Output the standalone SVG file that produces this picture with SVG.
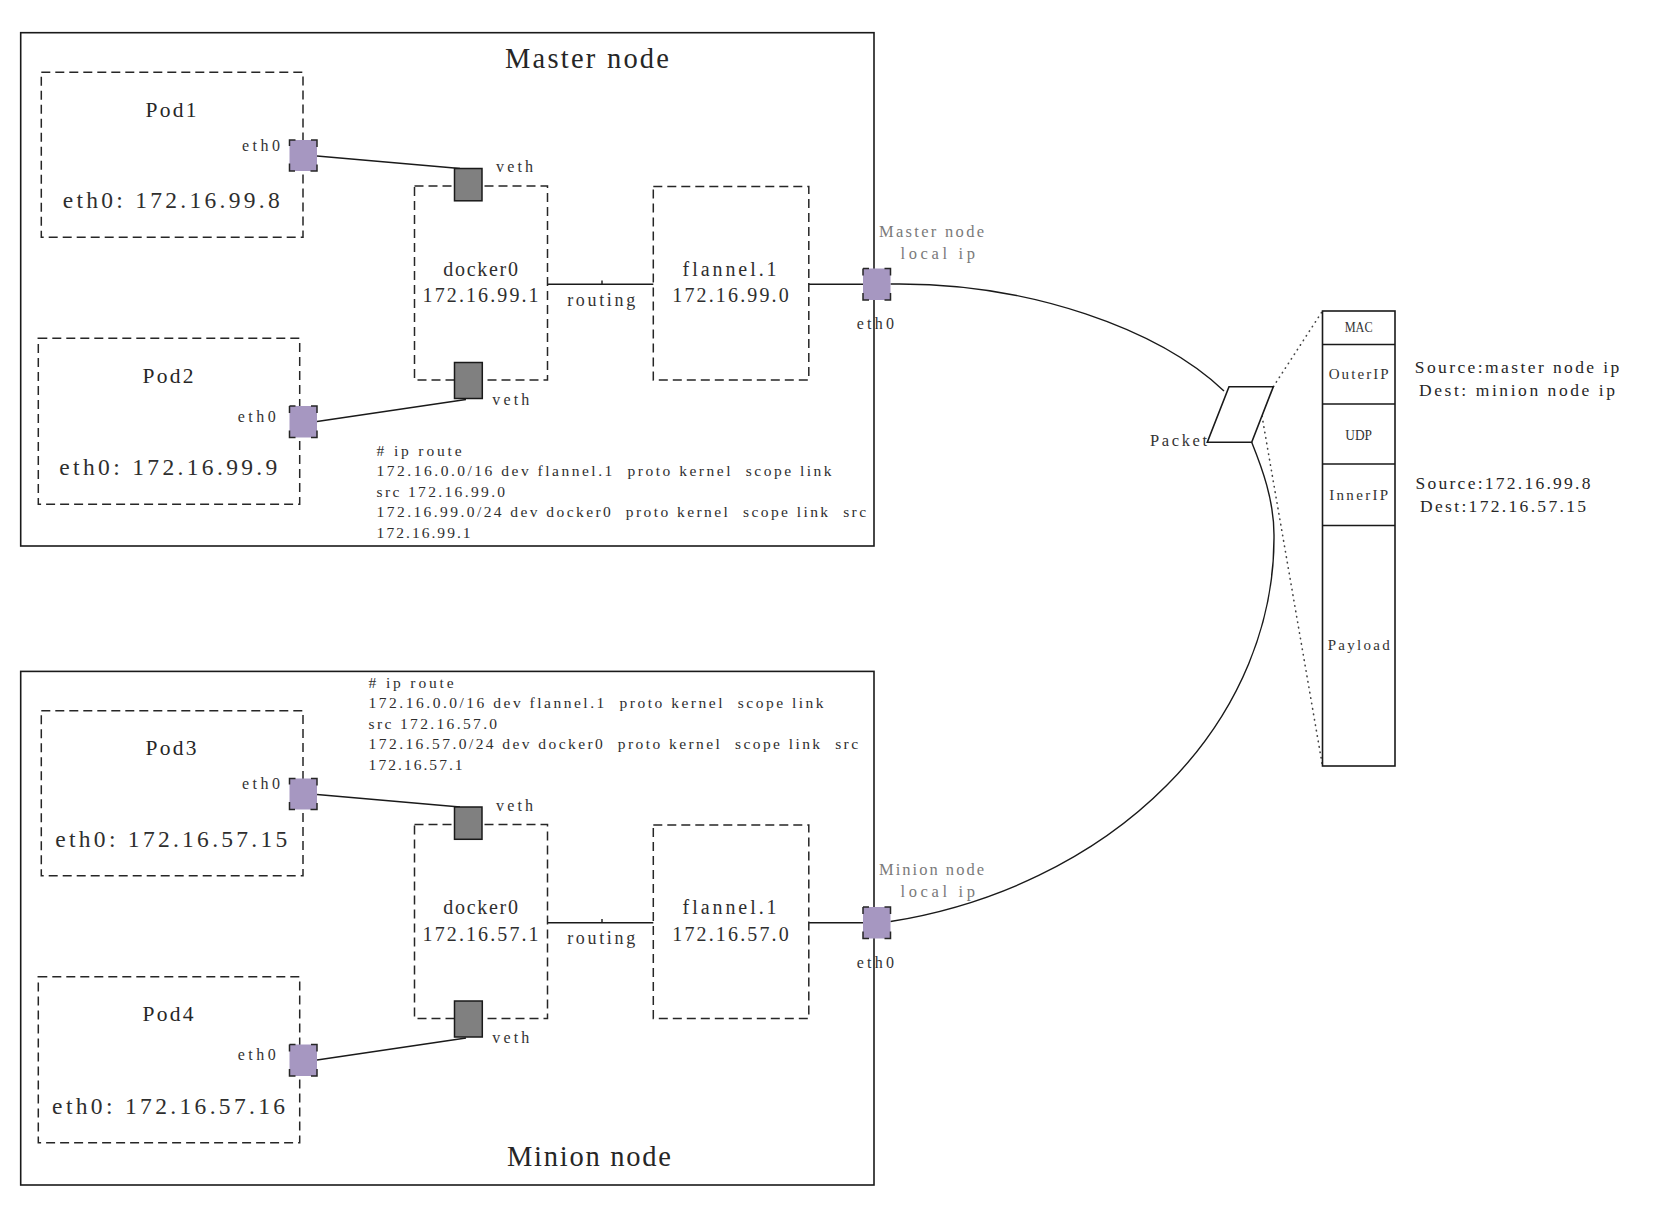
<svg xmlns="http://www.w3.org/2000/svg" width="1668" height="1228" viewBox="0 0 1668 1228">
<style>
text { font-family: "Liberation Serif", "Noto Sans CJK SC", serif; fill: #262626; white-space: pre; }
.box { fill: none; stroke: #1a1a1a; stroke-width: 1.6; }
.dash { fill: none; stroke: #262626; stroke-width: 1.5; stroke-dasharray: 9 5; }
.port { fill: #a697c1; stroke: #262626; stroke-width: 1.5; stroke-dasharray: 6 15.5 13 17.5 13 15.5 13 17.5 7 0; }
.veth { fill: #808080; stroke: #1a1a1a; stroke-width: 1.5; }
.wire { fill: none; stroke: #1a1a1a; stroke-width: 1.4; }
.dot { fill: none; stroke: #444; stroke-width: 1.6; stroke-dasharray: 0.5 5; stroke-linecap: round; }
.pkt { fill: #fff; stroke: #1a1a1a; stroke-width: 1.6; }
.title { font-size: 28.5px; text-anchor: middle; }
.pod { font-size: 21.5px; text-anchor: middle; }
.ip { font-size: 23.5px; fill: #2e2e2e; }
.small { font-size: 16px; fill: #333; }
.mid { font-size: 20px; text-anchor: middle; fill: #2e2e2e; }
.routing { font-size: 18px; text-anchor: middle; fill: #333; }
.route { font-size: 15.5px; fill: #2e2e2e; }
.gray { font-size: 16.5px; fill: #7a7a7a; }
.tbl { font-size: 15px; text-anchor: middle; fill: #333; }
.info { font-size: 17.5px; fill: #262626; }
</style>

<g id="master-node">
<rect class="box" x="20.7" y="32.7" width="853.3" height="513.3"/>
<text class="title" x="587" y="68" textLength="164">Master node</text>
</g>
<g id="minion-node">
<rect class="box" x="20.7" y="671.4" width="853.3" height="513.6"/>
<text class="title" x="589" y="1165.5" textLength="164">Minion node</text>
</g>

<g id="master-route">
<text class="route" xml:space="preserve" x="376.6" y="455.5" textLength="85">#&#160;ip route</text>
<text class="route" xml:space="preserve" x="376.6" y="476" textLength="455">172.16.0.0/16 dev flannel.1  proto kernel  scope link</text>
<text class="route" xml:space="preserve" x="376.6" y="496.5" textLength="128.5">src 172.16.99.0</text>
<text class="route" xml:space="preserve" x="376.6" y="517" textLength="489.5">172.16.99.0/24 dev docker0  proto kernel  scope link  src</text>
<text class="route" xml:space="preserve" x="376.6" y="537.5" textLength="94">172.16.99.1</text>
</g>
<g id="minion-route">
<text class="route" xml:space="preserve" x="368.6" y="687.5" textLength="85">#&#160;ip route</text>
<text class="route" xml:space="preserve" x="368.6" y="708" textLength="455">172.16.0.0/16 dev flannel.1  proto kernel  scope link</text>
<text class="route" xml:space="preserve" x="368.6" y="728.5" textLength="128.5">src 172.16.57.0</text>
<text class="route" xml:space="preserve" x="368.6" y="749" textLength="489.5">172.16.57.0/24 dev docker0  proto kernel  scope link  src</text>
<text class="route" xml:space="preserve" x="368.6" y="769.5" textLength="94">172.16.57.1</text>
</g>

<g id="connectors">
<path class="wire" d="M317 156 L460 168.5"/>
<path class="wire" d="M317 421.5 L466 399.5"/>
<path class="wire" d="M547.5 284.2 H653.3 M602 284.2 V280.5"/>
<path class="wire" d="M808.8 284.2 H863"/>
<path class="wire" d="M317 794.5 L460 807"/>
<path class="wire" d="M317 1060 L466 1038"/>
<path class="wire" d="M547.5 922.7 H653.3 M602 922.7 V919"/>
<path class="wire" d="M808.8 922.7 H863"/>
<path class="wire" d="M890.5 284 C1030 282 1160 330 1224 391"/>
<path class="wire" d="M1251.7 442.3 C1262 468 1274 500 1274 535 A474 391 0 0 1 890.5 921.5"/>
<path class="dot" d="M1273.3 386.7 L1322.5 311"/>
<path class="dot" d="M1262 416 L1322.5 766"/>
</g>

<g id="pod1">
<rect class="dash" x="41.3" y="72.3" width="261.7" height="165"/>
<text class="pod" x="171" y="116.7" textLength="51">Pod1</text>
<text class="ip" x="62.7" y="208.3" textLength="217">eth0: 172.16.99.8</text>
<text class="small" x="280" y="150.7" text-anchor="end" textLength="38">eth0</text>
<rect class="port" x="289.5" y="140" width="27.5" height="31"/>
</g>
<g id="pod2">
<rect class="dash" x="38.3" y="338.3" width="261.4" height="166"/>
<text class="pod" x="168" y="382.7" textLength="51">Pod2</text>
<text class="ip" x="59.3" y="475" textLength="218">eth0: 172.16.99.9</text>
<text class="small" x="275.7" y="421.7" text-anchor="end" textLength="38">eth0</text>
<rect class="port" x="289.5" y="406" width="27.5" height="31.5"/>
</g>
<g id="pod3">
<rect class="dash" x="41.3" y="710.8" width="261.7" height="165"/>
<text class="pod" x="171" y="755.2" textLength="51">Pod3</text>
<text class="ip" x="55.3" y="846.8" textLength="232">eth0: 172.16.57.15</text>
<text class="small" x="280" y="789.2" text-anchor="end" textLength="38">eth0</text>
<rect class="port" x="289.5" y="778.5" width="27.5" height="31"/>
</g>
<g id="pod4">
<rect class="dash" x="38.3" y="976.8" width="261.4" height="166"/>
<text class="pod" x="168" y="1021.2" textLength="51">Pod4</text>
<text class="ip" x="52.1" y="1113.5" textLength="233">eth0: 172.16.57.16</text>
<text class="small" x="275.7" y="1060.2" text-anchor="end" textLength="38">eth0</text>
<rect class="port" x="289.5" y="1044.5" width="27.5" height="31.5"/>
</g>

<g id="master-docker0">
<rect class="dash" x="414.5" y="186" width="133" height="194"/>
<text class="mid" x="480.6" y="275.5" textLength="74.7">docker0</text>
<text class="mid" x="480.6" y="302.1" textLength="116">172.16.99.1</text>
<rect class="veth" x="454.5" y="168.5" width="27.5" height="32.3"/>
<rect class="veth" x="454.5" y="362.5" width="27.8" height="36"/>
<text class="small" x="496" y="172" textLength="37">veth</text>
<text class="small" x="492.3" y="404.5" textLength="37">veth</text>
<text class="routing" x="601.2" y="305.6" textLength="68">routing</text>
</g>
<g id="master-flannel">
<rect class="dash" x="653.3" y="186.5" width="155.5" height="193.5"/>
<text class="mid" x="729.6" y="275.6" textLength="94">flannel.1</text>
<text class="mid" x="730.5" y="302.1" textLength="116.4">172.16.99.0</text>
</g>
<g id="master-eth0">
<rect class="port" x="863" y="268.5" width="27.5" height="31.5"/>
<text class="gray" x="879" y="236.5" textLength="105">Master node</text>
<text class="gray" x="900.5" y="258.8" textLength="74.5">local ip</text>
<text class="small" x="856.7" y="329.2" textLength="37.3">eth0</text>
</g>

<g id="minion-docker0">
<rect class="dash" x="414.5" y="824.5" width="133" height="194"/>
<text class="mid" x="480.6" y="914" textLength="74.7">docker0</text>
<text class="mid" x="480.6" y="940.6" textLength="116">172.16.57.1</text>
<rect class="veth" x="454.5" y="807" width="27.5" height="32.3"/>
<rect class="veth" x="454.5" y="1001" width="27.8" height="36"/>
<text class="small" x="496" y="810.5" textLength="37">veth</text>
<text class="small" x="492.3" y="1043" textLength="37">veth</text>
<text class="routing" x="601.2" y="944.1" textLength="68">routing</text>
</g>
<g id="minion-flannel">
<rect class="dash" x="653.3" y="825" width="155.5" height="193.5"/>
<text class="mid" x="729.6" y="914.1" textLength="94">flannel.1</text>
<text class="mid" x="730.5" y="940.6" textLength="116.4">172.16.57.0</text>
</g>
<g id="minion-eth0">
<rect class="port" x="863" y="907" width="27.5" height="31.5"/>
<text class="gray" x="879" y="875" textLength="105">Minion node</text>
<text class="gray" x="900.5" y="897.3" textLength="74.5">local ip</text>
<text class="small" x="856.7" y="967.7" textLength="37.3">eth0</text>
</g>

<g id="packet">
<polygon class="pkt" points="1229,386.7 1273.3,386.7 1251.7,442.3 1207.3,442.3"/>
<text class="small" style="font-size:16.5px" x="1150" y="445.7" textLength="57">Packet</text>
</g>

<g id="packet-format">
<rect class="box" x="1322.5" y="311" width="72.5" height="455"/>
<path class="box" d="M1322.5 344.5 H1395 M1322.5 404 H1395 M1322.5 464 H1395 M1322.5 525.5 H1395"/>
<text class="tbl" x="1358.7" y="332.3" textLength="28" lengthAdjust="spacingAndGlyphs">MAC</text>
<text class="tbl" x="1358.7" y="379" textLength="60">OuterIP</text>
<text class="tbl" x="1358.7" y="440" textLength="26.7" lengthAdjust="spacingAndGlyphs">UDP</text>
<text class="tbl" x="1358.7" y="500" textLength="59">InnerIP</text>
<text class="tbl" x="1358.7" y="650" textLength="62">Payload</text>
</g>

<g id="header-info">
<text class="info" x="1414.8" y="373" textLength="204.5">Source:master node ip</text>
<text class="info" x="1419" y="395.5" textLength="196">Dest: minion node ip</text>
<text class="info" x="1415.5" y="489" textLength="175">Source:172.16.99.8</text>
<text class="info" x="1420" y="511.5" textLength="166">Dest:172.16.57.15</text>
</g>
</svg>
